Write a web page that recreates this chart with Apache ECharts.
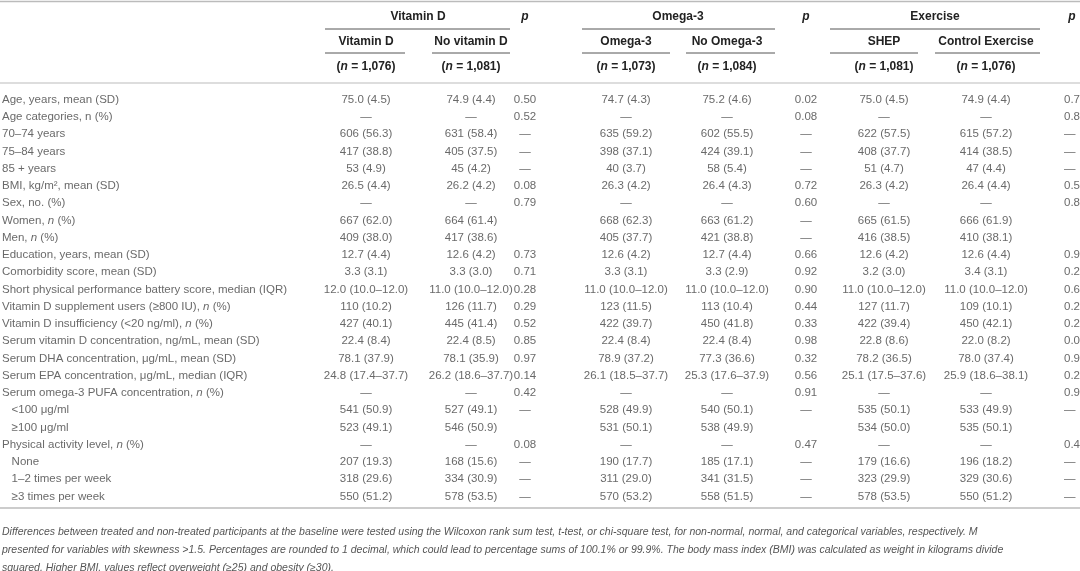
<!DOCTYPE html>
<html>
<head>
<meta charset="utf-8">
<script src="https://cdn.jsdelivr.net/npm/echarts@6/dist/echarts.min.js"></script>
<style>html,body{margin:0;background:#fff}#c{width:1080px;height:571px}</style>
</head>
<body>
<div id="c"></div>
<script>
// row labels (the "n" in {i|n} is italic)
var rowLabels = ['Age, years, mean (SD)', 'Age categories, n (%)', '70–74 years', '75–84 years', '85 + years',
  'BMI, kg/m², mean (SD)', 'Sex, no. (%)', 'Women, {i|n} (%)', 'Men, {i|n} (%)', 'Education, years, mean (SD)',
  'Comorbidity score, mean (SD)', 'Short physical performance battery score, median (IQR)',
  'Vitamin D supplement users (≥800 IU), {i|n} (%)', 'Vitamin D insufficiency (<20 ng/ml), {i|n} (%)',
  'Serum vitamin D concentration, ng/mL, mean (SD)', 'Serum DHA concentration, μg/mL, mean (SD)',
  'Serum EPA concentration, μg/mL, median (IQR)', 'Serum omega-3 PUFA concentration, {i|n} (%)',
  '   <100 μg/ml', '   ≥100 μg/ml', 'Physical activity level, {i|n} (%)', '   None', '   1–2 times per week', '   ≥3 times per week'];
var vitD = ['75.0 (4.5)', '—', '606 (56.3)', '417 (38.8)', '53 (4.9)', '26.5 (4.4)', '—', '667 (62.0)', '409 (38.0)', '12.7 (4.4)', '3.3 (3.1)', '12.0 (10.0–12.0)', '110 (10.2)', '427 (40.1)', '22.4 (8.4)', '78.1 (37.9)', '24.8 (17.4–37.7)', '—', '541 (50.9)', '523 (49.1)', '—', '207 (19.3)', '318 (29.6)', '550 (51.2)'];
var noVitD = ['74.9 (4.4)', '—', '631 (58.4)', '405 (37.5)', '45 (4.2)', '26.2 (4.2)', '—', '664 (61.4)', '417 (38.6)', '12.6 (4.2)', '3.3 (3.0)', '11.0 (10.0–12.0)', '126 (11.7)', '445 (41.4)', '22.4 (8.5)', '78.1 (35.9)', '26.2 (18.6–37.7)', '—', '527 (49.1)', '546 (50.9)', '—', '168 (15.6)', '334 (30.9)', '578 (53.5)'];
var pVitD = ['0.50', '0.52', '—', '—', '—', '0.08', '0.79', '', '', '0.73', '0.71', '0.28', '0.29', '0.52', '0.85', '0.97', '0.14', '0.42', '—', '', '0.08', '—', '—', '—'];
var omega = ['74.7 (4.3)', '—', '635 (59.2)', '398 (37.1)', '40 (3.7)', '26.3 (4.2)', '—', '668 (62.3)', '405 (37.7)', '12.6 (4.2)', '3.3 (3.1)', '11.0 (10.0–12.0)', '123 (11.5)', '422 (39.7)', '22.4 (8.4)', '78.9 (37.2)', '26.1 (18.5–37.7)', '—', '528 (49.9)', '531 (50.1)', '—', '190 (17.7)', '311 (29.0)', '570 (53.2)'];
var noOmega = ['75.2 (4.6)', '—', '602 (55.5)', '424 (39.1)', '58 (5.4)', '26.4 (4.3)', '—', '663 (61.2)', '421 (38.8)', '12.7 (4.4)', '3.3 (2.9)', '11.0 (10.0–12.0)', '113 (10.4)', '450 (41.8)', '22.4 (8.4)', '77.3 (36.6)', '25.3 (17.6–37.9)', '—', '540 (50.1)', '538 (49.9)', '—', '185 (17.1)', '341 (31.5)', '558 (51.5)'];
var pOmega = ['0.02', '0.08', '—', '—', '—', '0.72', '0.60', '—', '—', '0.66', '0.92', '0.90', '0.44', '0.33', '0.98', '0.32', '0.56', '0.91', '—', '', '0.47', '—', '—', '—'];
var shep = ['75.0 (4.5)', '—', '622 (57.5)', '408 (37.7)', '51 (4.7)', '26.3 (4.2)', '—', '665 (61.5)', '416 (38.5)', '12.6 (4.2)', '3.2 (3.0)', '11.0 (10.0–12.0)', '127 (11.7)', '422 (39.4)', '22.8 (8.6)', '78.2 (36.5)', '25.1 (17.5–37.6)', '—', '535 (50.1)', '534 (50.0)', '—', '179 (16.6)', '323 (29.9)', '578 (53.5)'];
var control = ['74.9 (4.4)', '—', '615 (57.2)', '414 (38.5)', '47 (4.4)', '26.4 (4.4)', '—', '666 (61.9)', '410 (38.1)', '12.6 (4.4)', '3.4 (3.1)', '11.0 (10.0–12.0)', '109 (10.1)', '450 (42.1)', '22.0 (8.2)', '78.0 (37.4)', '25.9 (18.6–38.1)', '—', '533 (49.9)', '535 (50.1)', '—', '196 (18.2)', '329 (30.6)', '550 (51.2)'];
var pExercise = ['0.7', '0.8', '—', '—', '—', '0.5', '0.8', '', '', '0.9', '0.2', '0.6', '0.2', '0.2', '0.0', '0.9', '0.2', '0.9', '—', '', '0.4', '—', '—', '—'];

var groupHeaders = ['Vitamin D', 'Omega-3', 'Exercise'];
var subHeaders = ['Vitamin D', 'No vitamin D', 'Omega-3', 'No Omega-3', 'SHEP', 'Control Exercise'];
var groupSizes = ['1,076', '1,081', '1,073', '1,084', '1,081', '1,076'];
var footnote = [
  'Differences between treated and non-treated participants at the baseline were tested using the Wilcoxon rank sum test, t-test, or chi-square test, for non-normal, normal, and categorical variables, respectively. M',
  'presented for variables with skewness >1.5. Percentages are rounded to 1 decimal, which could lead to percentage sums of 100.1% or 99.9%. The body mass index (BMI) was calculated as weight in kilograms divide',
  'squared. Higher BMI, values reflect overweight (≥25) and obesity (≥30).'
];

var columns = [vitD, noVitD, pVitD, omega, noOmega, pOmega, shep, control, pExercise];
var colX = [366, 471, 525, 626, 727, 806, 884, 986, 1064];
var subX = [366, 471, 626, 727, 884, 986];
var groupX = [418, 678, 935];
var pX = [525, 806, 1072];

var font = 'Helvetica, Arial, "Liberation Sans", sans-serif';
var txt = '#444', head = '#222', rule = '#bbb';
var rich = { i: { fontStyle: 'italic', fontFamily: font, fontSize: 11.5, color: txt } };

var series = [];
series.push({
  type: 'scatter', symbolSize: 0, silent: true,
  data: rowLabels.map(function (l, i) { return { value: [2, i], name: l }; }),
  label: { show: true, position: 'inside', align: 'left', formatter: function (p) { return p.name; },
    color: txt, fontSize: 11.5, fontFamily: font, rich: rich }
});
columns.forEach(function (col, c) {
  series.push({
    type: 'scatter', symbolSize: 0, silent: true,
    data: col.map(function (v, i) { return { value: [colX[c], i], name: v }; }),
    label: { show: true, position: 'inside', align: c === 8 ? 'left' : 'center',
      formatter: function (p) { return p.name; }, color: txt, fontSize: 11.5, fontFamily: font }
  });
});

var g = [];
function line(x1, y1, x2, y2, w, col) {
  g.push({ type: 'line', shape: { x1: x1, y1: y1, x2: x2, y2: y2 }, style: { stroke: col || '#666', lineWidth: w || 1 } });
}
function text(x, y, s, opt) {
  g.push({ type: 'text', x: x, y: y, style: Object.assign({ text: s, font: '11.5px ' + font, fill: txt, textAlign: 'left', textVerticalAlign: 'middle' }, opt || {}) });
}
line(0, 1.5, 1080, 1.5, 1.5, rule);
line(0, 83, 1080, 83, 1, rule);
line(0, 508, 1080, 508, 1.5, rule);
var groupSpans = [[325, 510], [582, 775], [830, 1040]];
var subSpans = [[325, 405], [432, 510], [582, 670], [686, 775], [830, 918], [935, 1040]];
groupHeaders.forEach(function (h, k) {
  text(groupX[k], 17, h, { font: 'bold 12px ' + font, fill: head, textAlign: 'center' });
  line(groupSpans[k][0], 29, groupSpans[k][1], 29, 1, '#555');
  text(pX[k], 17, 'p', { font: 'italic bold 12px ' + font, fill: head, textAlign: 'center' });
});
subHeaders.forEach(function (h, k) {
  text(subX[k], 42, h, { font: 'bold 12px ' + font, fill: head, textAlign: 'center' });
  line(subSpans[k][0], 53, subSpans[k][1], 53, 1, '#555');
  g.push({ type: 'text', x: subX[k], y: 67, style: { text: '({i|n} = ' + groupSizes[k] + ')', font: 'bold 12px ' + font, fill: head,
    textAlign: 'center', textVerticalAlign: 'middle', rich: { i: { fontStyle: 'italic', fontWeight: 'bold', fontSize: 12, fontFamily: font, fill: head } } } });
});
footnote.forEach(function (f, k) {
  text(2, 532 + k * 18, f, { font: 'italic 10.5px ' + font, fill: '#555' });
});

var chart = echarts.init(document.getElementById('c'));
chart.setOption({
  animation: false,
  grid: { left: 0, right: 0, top: 91, bottom: 66 },
  xAxis: { type: 'value', min: 0, max: 1080, show: false },
  yAxis: { type: 'category', data: rowLabels.map(function (l, i) { return i; }), inverse: true, show: false },
  series: series,
  graphic: g
});
</script>
</body>
</html>
